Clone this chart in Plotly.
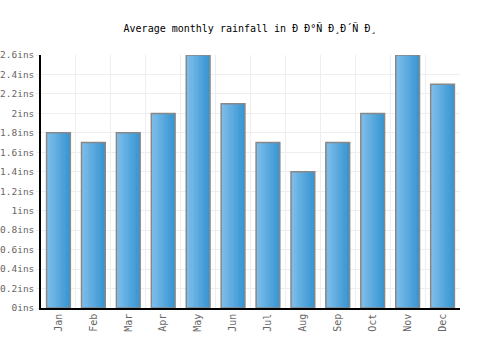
import plotly.graph_objects as go

months = ["Jan", "Feb", "Mar", "Apr", "May", "Jun", "Jul", "Aug", "Sep", "Oct", "Nov", "Dec"]
rainfall = [1.8, 1.7, 1.8, 2.0, 2.6, 2.1, 1.7, 1.4, 1.7, 2.0, 2.6, 2.3]
y_ticks = [0, 0.2, 0.4, 0.6, 0.8, 1.0, 1.2, 1.4, 1.6, 1.8, 2.0, 2.2, 2.4, 2.6]
y_labels = ["0ins", "0.2ins", "0.4ins", "0.6ins", "0.8ins", "1ins", "1.2ins", "1.4ins",
            "1.6ins", "1.8ins", "2ins", "2.2ins", "2.4ins", "2.6ins"]
title = "Average monthly rainfall in Ð Ð°Ñ Ð¸Ð´Ñ Ð¸"

FONT = "DejaVu Sans Mono"
bar_w = 0.68
n_slices = 14
c0 = (128, 190, 235)
c1 = (56, 150, 210)

fig = go.Figure()
sw = bar_w / n_slices
for i in range(n_slices):
    t = i / (n_slices - 1)
    col = tuple(round(c0[k] + (c1[k] - c0[k]) * t) for k in range(3))
    fig.add_trace(go.Bar(
        x=months, y=rainfall, width=sw * 1.05, offset=-bar_w / 2 + i * sw,
        marker=dict(color="rgb(%d,%d,%d)" % col, line=dict(width=0)),
        showlegend=False, hoverinfo="skip",
    ))
fig.add_trace(go.Bar(
    x=months, y=rainfall, width=bar_w, offset=-bar_w / 2,
    marker=dict(color="rgba(0,0,0,0)", line=dict(color="#888888", width=1.5)),
    showlegend=False,
))

fig.update_layout(
    width=500, height=350,
    margin=dict(l=41, r=40, t=55, b=42),
    barmode="overlay",
    plot_bgcolor="white", paper_bgcolor="white",
    title=dict(text=title, x=0.5, xanchor="center", y=0.92, yanchor="middle",
               font=dict(family=FONT, size=10, color="#000000")),
    font=dict(family=FONT, size=10, color="#666666"),
)
fig.update_xaxes(
    type="category", tickson="boundaries", showgrid=True, gridcolor="#eeeeee",
    showline=True, linecolor="#000000", linewidth=1.5, tickangle=-90,
    ticks="", automargin=False, tickfont=dict(family=FONT, size=10, color="#666666"),
)
fig.update_yaxes(
    range=[0, 2.6], tickvals=y_ticks, ticktext=y_labels, showgrid=True,
    gridcolor="#eeeeee", showline=True, linecolor="#000000", linewidth=1.5,
    ticks="outside", ticklen=3, tickcolor="#eeeeee", zeroline=False,
    automargin=False, tickfont=dict(family=FONT, size=9.5, color="#666666"),
)

fig.write_html("out.html")
